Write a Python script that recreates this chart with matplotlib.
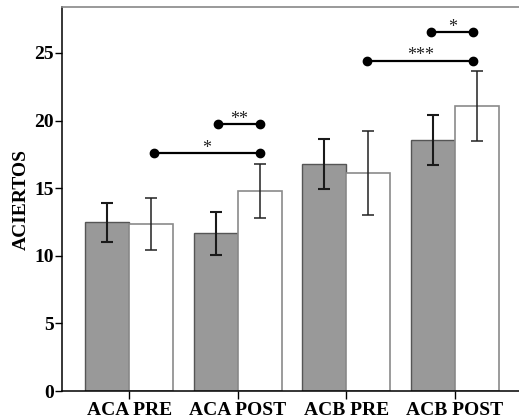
import matplotlib
matplotlib.use("Agg")
import matplotlib.pyplot as plt
import numpy as np

categories = ["ACA PRE", "ACA POST", "ACB PRE", "ACB POST"]
gray_means = [12.47, 11.65, 16.79, 18.57]
gray_err = [1.47, 1.57, 1.83, 1.85]
white_means = [12.35, 14.79, 16.15, 21.06]
white_err = [1.95, 2.02, 3.1, 2.58]

# significance brackets: (x_start, x_end, y, label)
sig_x0 = [0.23, 0.82, 2.19, 2.78]
sig_x1 = [1.2, 1.2, 3.17, 3.17]
sig_y = [17.6, 19.73, 24.44, 26.54]
sig_labels = ["*", "**", "***", "*"]

plt.rcParams['font.family'] = ['Liberation Serif', 'DejaVu Serif']

fig = plt.figure(figsize=(5.19, 4.2), dpi=100)
ax = fig.add_axes([62/519, 1 - 391/420, (519 - 62)/519, (391 - 7)/420])

x = np.arange(len(categories))
w = 0.405
ax.bar(x - w/2, gray_means, width=w, color="#999999", edgecolor="#555555", linewidth=1.0, zorder=2)
ax.bar(x + w/2, white_means, width=w, color="white", edgecolor="#8a8a8a", linewidth=1.2, zorder=2)
ax.errorbar(x - w/2, gray_means, yerr=gray_err, fmt="none", ecolor="#1a1a1a",
            elinewidth=1.5, capsize=4, capthick=1.5, zorder=3)
ax.errorbar(x + w/2, white_means, yerr=white_err, fmt="none", ecolor="#222222",
            elinewidth=1.1, capsize=4, capthick=1.1, zorder=3)

for x0, x1, y, lab in zip(sig_x0, sig_x1, sig_y, sig_labels):
    ax.plot([x0, x1], [y, y], color="black", linewidth=1.6, marker="o", markersize=6, zorder=4)
    ax.text((x0 + x1) / 2, y + 0.35, lab, ha="center", va="center", fontsize=13, color="#222222")

ax.set_xlim(-0.62, 3.59)
ax.set_ylim(0, 28.4)
ax.set_xticks(x)
ax.set_xticklabels(categories, fontsize=14, fontweight="bold")
ax.set_yticks([0, 5, 10, 15, 20, 25])
ax.set_yticklabels(["0", "5", "10", "15", "20", "25"], fontsize=14, fontweight="bold")
ax.tick_params(axis="x", length=6, width=1, pad=2, colors="black")
ax.tick_params(axis="y", length=5, width=1, pad=1)
ax.set_ylabel("ACIERTOS", fontsize=14, fontweight="bold", labelpad=3)

ax.spines["right"].set_visible(False)
ax.spines["top"].set_color("#888888")
ax.spines["top"].set_linewidth(1.2)
ax.spines["left"].set_linewidth(1.1)
ax.spines["bottom"].set_linewidth(1.1)

fig.savefig("out.png", dpi=100)
